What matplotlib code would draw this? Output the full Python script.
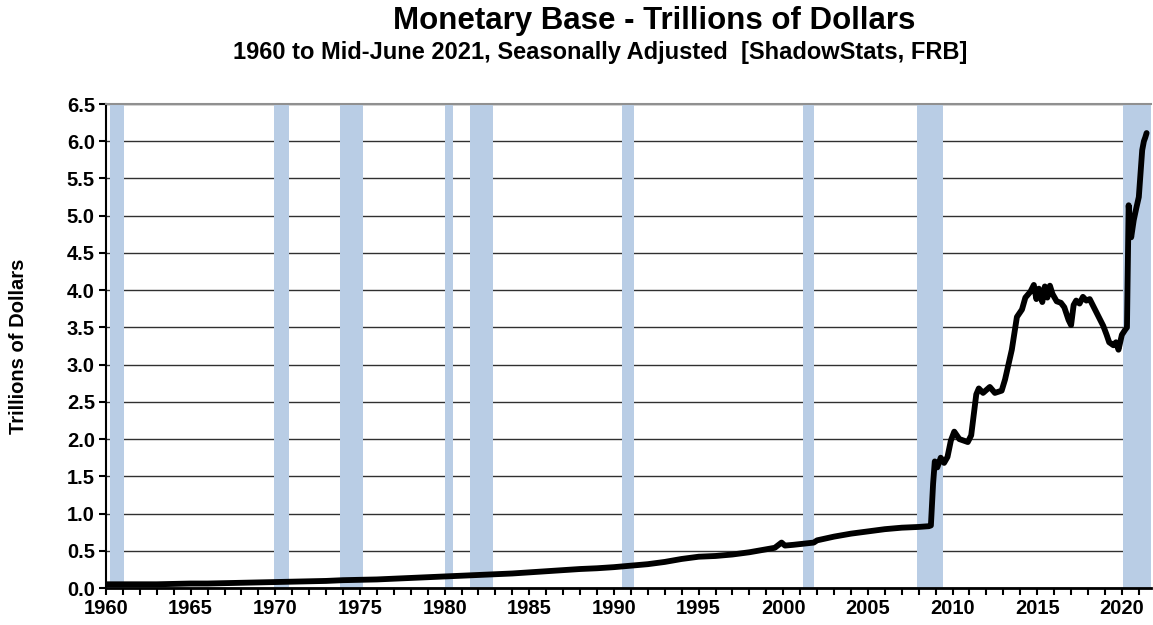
import matplotlib
matplotlib.use("Agg")
import matplotlib.pyplot as plt
from matplotlib.ticker import MultipleLocator, FixedLocator

plt.rcParams['font.family'] = ['Liberation Sans', 'DejaVu Sans']
plt.rcParams['font.weight'] = 'bold'

# monetary base, trillions of dollars (decimal year, value)
years = [1960.0, 1961, 1962, 1963, 1964, 1965, 1966, 1967, 1968, 1969,
         1970, 1971, 1972, 1973, 1974, 1975, 1976, 1977, 1978, 1979,
         1980, 1981, 1982, 1983, 1984, 1985, 1986, 1987, 1988, 1989,
         1990, 1991, 1992, 1993, 1994, 1995, 1996, 1997, 1998, 1999.5,
         1999.9, 2000.1, 2000.6, 2001, 2001.8, 2002, 2003, 2004, 2005, 2006,
         2007, 2008.0, 2008.6, 2008.72, 2008.85, 2008.95, 2009.1, 2009.3, 2009.5, 2009.7,
         2009.9, 2010.1, 2010.4, 2010.9, 2011.1, 2011.4, 2011.55, 2011.8, 2012.0, 2012.2,
         2012.5, 2012.9, 2013.1, 2013.5, 2013.8, 2014.1, 2014.3, 2014.6, 2014.8, 2014.95,
         2015.1, 2015.3, 2015.45, 2015.6, 2015.75, 2015.9, 2016.15, 2016.4, 2016.6, 2016.85,
         2017.0, 2017.15, 2017.3, 2017.5, 2017.7, 2017.9, 2018.1, 2018.5, 2018.9, 2019.1,
         2019.25, 2019.5, 2019.65, 2019.8, 2020.0, 2020.2, 2020.3, 2020.4, 2020.55, 2020.7,
         2020.85, 2021.0, 2021.2, 2021.3, 2021.38, 2021.46]
base = [0.05, 0.05, 0.05, 0.05, 0.055, 0.06, 0.06, 0.065, 0.07, 0.075,
        0.08, 0.085, 0.09, 0.095, 0.105, 0.11, 0.115, 0.125, 0.135, 0.145,
        0.155, 0.165, 0.175, 0.185, 0.195, 0.21, 0.225, 0.24, 0.255, 0.265,
        0.28, 0.30, 0.32, 0.35, 0.39, 0.42, 0.43, 0.45, 0.48, 0.54,
        0.61, 0.57, 0.58, 0.59, 0.61, 0.64, 0.69, 0.73, 0.76, 0.79,
        0.81, 0.82, 0.83, 0.84, 1.40, 1.70, 1.62, 1.75, 1.68, 1.76,
        1.98, 2.10, 2.00, 1.96, 2.05, 2.60, 2.68, 2.62, 2.66, 2.70,
        2.62, 2.65, 2.80, 3.20, 3.64, 3.74, 3.90, 3.98, 4.07, 3.88,
        4.02, 3.84, 4.05, 3.90, 4.06, 3.95, 3.85, 3.83, 3.77, 3.60,
        3.53, 3.80, 3.86, 3.82, 3.91, 3.86, 3.88, 3.70, 3.52, 3.40,
        3.30, 3.26, 3.30, 3.20, 3.40, 3.47, 3.50, 5.14, 4.71, 4.94,
        5.10, 5.25, 5.88, 6.00, 6.05, 6.11]

# NBER recessions (start, end) in decimal years
rec_start = [1960.25, 1969.92, 1973.83, 1980.0, 1981.5, 1990.5, 2001.17, 2007.92, 2020.08]
rec_end = [1961.08, 1970.83, 1975.17, 1980.5, 1982.83, 1991.17, 2001.83, 2009.42, 2021.75]

x_start, x_end = 1960.0, 2021.72

fig = plt.figure(figsize=(11.53, 6.25), dpi=100)
ax = fig.add_axes([106 / 1153, 37 / 625, 1045 / 1153, 484 / 625])

for s, e in zip(rec_start, rec_end):
    ax.axvspan(s, min(e, x_end), color='#B9CDE5', lw=0, zorder=2)

ax.plot(years, base, color='black', lw=4.2, solid_joinstyle='round',
        solid_capstyle='round', zorder=3)

ax.set_xlim(x_start, x_end)
ax.set_ylim(0, 6.5)
ax.yaxis.set_major_locator(MultipleLocator(0.5))
ax.yaxis.set_major_formatter(matplotlib.ticker.FormatStrFormatter('%.1f'))
ax.xaxis.set_major_locator(FixedLocator(range(1960, 2021, 5)))
ax.xaxis.set_minor_locator(FixedLocator(range(1960, 2022)))
ax.grid(axis='y', color='#303030', lw=1.0, zorder=1)
ax.set_axisbelow(True)

ax.tick_params(axis='both', which='major', labelsize=14.5, length=5, width=1.5,
               direction='out', pad=3)
ax.tick_params(axis='x', which='minor', length=5, width=1.5, direction='out')
for lab in ax.get_xticklabels() + ax.get_yticklabels():
    lab.set_fontweight('bold')

ax.spines['top'].set_color('#909090')
ax.spines['top'].set_linewidth(1.5)
ax.spines['right'].set_visible(False)
ax.spines['left'].set_linewidth(1.5)
ax.spines['bottom'].set_linewidth(2)

ax.set_ylabel('Trillions of Dollars', fontsize=14.5, fontweight='bold')
ax.yaxis.set_label_coords(-0.075, 0.5)

fig.text(654 / 1153, 1 - 21 / 625, 'Monetary Base - Trillions of Dollars',
         ha='center', va='center', fontsize=22.5, fontweight='bold')
fig.text(600 / 1153, 1 - 53 / 625,
         '1960 to Mid-June 2021, Seasonally Adjusted  [ShadowStats, FRB]',
         ha='center', va='center', fontsize=17, fontweight='bold')

fig.savefig('out.png', dpi=100)
